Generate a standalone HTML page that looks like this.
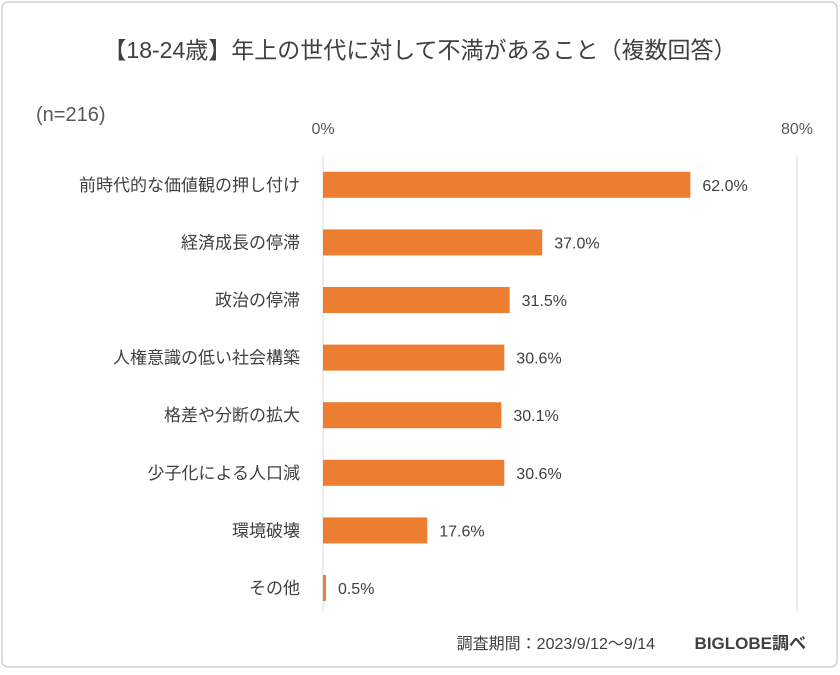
<!DOCTYPE html>
<html><head><meta charset="utf-8"><style>
body{margin:0;background:#fff;}
svg text{font-family:"Liberation Sans","Noto Sans CJK JP",sans-serif;}
</style></head><body>
<svg id="chart" width="840" height="670" xmlns="http://www.w3.org/2000/svg">
<rect x="2" y="2" width="835" height="665" rx="6" fill="#fff" stroke="#d0d0d0" stroke-width="1.5"/>
<text x="420" y="58" text-anchor="middle" font-size="23" fill="#404040">【18-24歳】年上の世代に対して不満があること（複数回答）</text>
<text x="36" y="121" font-size="20" fill="#595959">(n=216)</text>
<g id="axes"></g>
<g id="bars"></g>
<text x="655" y="649" text-anchor="end" font-size="16" fill="#404040">調査期間：2023/9/12～9/14</text>
<text x="806" y="649" text-anchor="end" font-size="17" font-weight="bold" fill="#404040">BIGLOBE調べ</text>
</svg>
<script>
const categories=["前時代的な価値観の押し付け","経済成長の停滞","政治の停滞","人権意識の低い社会構築","格差や分断の拡大","少子化による人口減","環境破壊","その他"];
const values=[62.0,37.0,31.5,30.6,30.1,30.6,17.6,0.5];
const tickValues=[0,80];
const tickLabels=["0%","80%"];
const NS="http://www.w3.org/2000/svg";
const x0=323,x1=797,xMax=80;
const xs=v=>x0+(v/xMax)*(x1-x0);
const yTop=156,step=57.6;
const yc=i=>yTop+step*(i+0.5);
const axes=document.getElementById('axes'),bars=document.getElementById('bars');
function mk(tag,attrs,parent,txt){const e=document.createElementNS(NS,tag);for(const k in attrs)e.setAttribute(k,attrs[k]);if(txt!==undefined)e.textContent=txt;parent.appendChild(e);return e;}
tickValues.forEach((t,i)=>{
 const g=mk('line',{x1:xs(t),x2:xs(t),y1:yTop,y2:yTop+step*categories.length-5,stroke:'#d9d9d9','stroke-width':1},axes);
 
 
 const l=mk('text',{x:xs(t),y:134,'text-anchor':'middle','font-size':16,fill:'#595959'},axes,tickLabels[i]);
 
 
});
categories.forEach((c,i)=>{
 const y=yc(i);
 const lab=mk('text',{x:300,y:y+6,'text-anchor':'end','font-size':17,fill:'#404040'},bars,c);
 
 
 const w=Math.max(xs(values[i])-x0,1.5);
 const r=mk('rect',{x:x0,y:y-13,width:w,height:26,fill:'#ed7d31'},bars);
 
 
 const v=mk('text',{x:x0+w+12,y:y+6,'font-size':16,fill:'#404040'},bars,values[i].toFixed(1)+'%');
 
 
});
</script>
</body></html>
